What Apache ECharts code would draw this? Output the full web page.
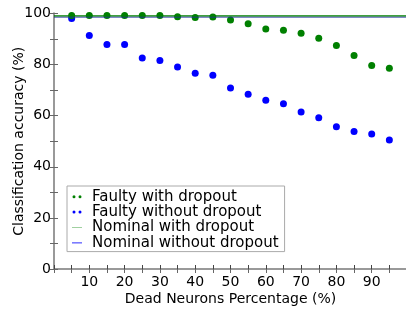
<!DOCTYPE html>
<html>
<head>
<meta charset="utf-8">
<script src="https://cdn.jsdelivr.net/npm/echarts@6/dist/echarts.min.js"></script>
<style>
  html, body { margin: 0; padding: 0; background: #fff; }
  #chart { width: 406px; height: 309px; }
</style>
</head>
<body>
<div id="chart"></div>
<script>
// dead neurons percentage
var deadPct = [5, 10, 15, 20, 25, 30, 35, 40, 45, 50, 55, 60, 65, 70, 75, 80, 85, 90, 95];
// accuracy (%)
var faultyWith = [99.2, 99.2, 99.2, 99.2, 99.2, 99.2, 98.7, 98.4, 98.6, 97.5, 96.0, 93.9, 93.4, 92.3, 90.3, 87.5, 83.6, 79.6, 78.6];
var faultyWithout = [98.0, 91.4, 87.9, 87.9, 82.6, 81.6, 79.1, 76.6, 75.8, 70.8, 68.4, 66.0, 64.7, 61.4, 59.2, 55.7, 53.8, 52.8, 50.5];
var nominalWith = 99.1;
var nominalWithout = 98.6;
var legendNames = ['Faulty with dropout', 'Faulty without dropout', 'Nominal with dropout', 'Nominal without dropout'];

var myChart = echarts.init(document.getElementById('chart'));

function pairs(xs, ys) {
  return xs.map(function (x, i) { return [x, ys[i]]; });
}

var font = 'DejaVu Sans';
var twoDots = 'path://M0,2a2,2 0 1,0 4,0a2,2 0 1,0 -4,0M8,2a2,2 0 1,0 4,0a2,2 0 1,0 -4,0';
var shortLine = 'path://M0,0L12,0L12,1L0,1Z';

var option = {
  animation: false,
  backgroundColor: '#fff',
  grid: { left: 54, top: 13.5, width: 353, bottom: 40, containLabel: false, outerBoundsMode: 'none' },
  legend: {
    orient: 'vertical',
    left: 67,
    top: 186,
    padding: [3, 6, 1, 5],
    itemGap: 0,
    itemWidth: 10,
    itemHeight: 3,
    borderColor: '#aaa',
    borderWidth: 1,
    backgroundColor: '#fff',
    textStyle: { fontFamily: font, fontSize: 15, color: '#000', lineHeight: 15.4, padding: [0, 0, 0, 5] },
    data: [
      { name: legendNames[0], icon: twoDots, itemStyle: { color: '#008000' } },
      { name: legendNames[1], icon: twoDots, itemStyle: { color: '#0000ff' } },
      { name: legendNames[2], icon: shortLine, itemStyle: { color: 'rgba(0,128,0,0.45)' } },
      { name: legendNames[3], icon: shortLine, itemStyle: { color: '#0000ff' } }
    ]
  },
  xAxis: [{
    type: 'value',
    min: 0, max: 100, interval: 5,
    name: 'Dead Neurons Percentage (%)',
    nameLocation: 'middle',
    nameGap: 23,
    nameMoveOverlap: false,
    nameTextStyle: { fontFamily: font, fontSize: 14, color: '#000' },
    axisLine: { lineStyle: { color: '#444', width: 1 } },
    axisTick: { inside: true, length: 4, lineStyle: { color: '#444' } },
    axisLabel: {
      fontFamily: font, fontSize: 14, color: '#000', margin: 6,
      formatter: function (v) { return (v % 10 === 0 && v > 0 && v < 100) ? v : ''; }
    },
    splitLine: { show: false }
  }, {
    type: 'value',
    position: 'top',
    min: 0, max: 100, interval: 5,
    axisLine: { show: true, lineStyle: { color: '#999', width: 2 } },
    axisTick: { inside: true, length: 4, lineStyle: { color: '#666' } },
    axisLabel: { show: false },
    splitLine: { show: false }
  }],
  yAxis: [{
    type: 'value',
    min: 0, max: 100, interval: 10,
    name: 'Classification accuracy (%)',
    nameLocation: 'middle',
    nameGap: 28,
    nameMoveOverlap: false,
    nameTextStyle: { fontFamily: font, fontSize: 14, color: '#000' },
    axisLine: { show: true, lineStyle: { color: '#999', width: 2 } },
    axisTick: { show: true, inside: true, length: 4, lineStyle: { color: '#666' } },
    axisLabel: {
      fontFamily: font, fontSize: 14, color: '#000', margin: 3,
      formatter: function (v) { return v % 20 === 0 ? v : ''; }
    },
    splitLine: { show: false }
  }, {
    type: 'value',
    position: 'right',
    min: 0, max: 100, interval: 10,
    axisLine: { show: true, lineStyle: { color: '#999', width: 2 } },
    axisTick: { show: true, inside: true, length: 4, lineStyle: { color: '#666' } },
    axisLabel: { show: false },
    splitLine: { show: false }
  }],
  series: [
    {
      name: legendNames[3],
      type: 'line',
      symbol: 'none',
      data: [[0, nominalWithout], [100, nominalWithout]],
      lineStyle: { color: '#2030a0', width: 1 },
      itemStyle: { color: '#0000ff' }
    },
    {
      name: legendNames[2],
      type: 'line',
      symbol: 'none',
      data: [[0, nominalWith], [100, nominalWith]],
      lineStyle: { color: '#008000', width: 1.3 },
      itemStyle: { color: 'rgba(0,128,0,0.45)' }
    },
    {
      name: legendNames[1],
      type: 'scatter',
      symbolSize: 7,
      data: pairs(deadPct, faultyWithout),
      itemStyle: { color: '#0000ff', opacity: 1 }
    },
    {
      name: legendNames[0],
      type: 'scatter',
      symbolSize: 7,
      data: pairs(deadPct, faultyWith),
      itemStyle: { color: '#008000', opacity: 1 }
    }
  ]
};

myChart.setOption(option);
</script>
</body>
</html>
